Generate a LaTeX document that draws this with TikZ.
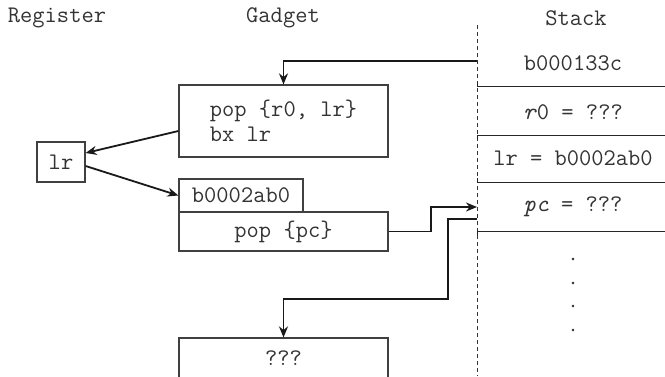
\documentclass[tikz,border=0pt]{standalone}
\usepackage{fontspec}
\usetikzlibrary{arrows.meta}
\begin{document}
\begin{tikzpicture}[x=1pt,y=-1pt,
  every node/.style={font=\ttfamily\fontsize{23.8}{25}\selectfont, text=black!80, inner sep=0pt},
  box/.style={draw=black!75, line width=1.2pt, rectangle, minimum width=209pt},
  arr/.style={draw=black!90, line width=1.8pt, -{Stealth[length=11pt,width=9pt]}},
  cell/.style={draw=black!85, line width=1pt},
  ttl/.style={}]
\useasboundingbox (0,0) rectangle (665,376);
\clip (0,0) rectangle (665,376);
% titles
\node[ttl] (tr) at (57,18) {Register};
\node[ttl] (tg) at (283,18) {Gadget};
\node[ttl] (ts) at (576,18) {Stack};
% stack
\draw[black!80, line width=1pt, dash pattern=on 4pt off 3pt] (477,25) -- (477,376);
\draw[cell] (477,82) -- (477,86) -- (665,86);
\draw[cell] (477,139) -- (477,135) -- (665,135);
\draw[cell] (477,178) -- (477,182) -- (665,182);
\draw[cell] (477,235) -- (477,231) -- (665,231);
\node (s1) at (573,63) {b000133c};
\node (s2) at (573,112) {\textit{r}0 = ???};
\node (s3) at (573,158) {lr = b0002ab0};
\node (s4) at (573,207) {\textit{pc} = ???};
\foreach \yy [count=\i] in {259,283,306,330} \fill[black!85] (573,\yy) circle (1.3pt);
% gadgets
\node[box, minimum height=72pt, align=left] (g1) at (283.5,121) {pop \{r0, lr\}\\bx lr};
\node[box, minimum width=48pt, minimum height=40pt] (lr) at (61,162) {lr};
\node[box, minimum width=124pt, minimum height=33pt] (ab) at (241,195.5) {b0002ab0};
\node[box, minimum height=39pt] (pc) at (283.5,231.5) {pop \{pc\}};
\node[box, minimum height=40pt] (q) at (283.5,358) {???};
% connectors
\coordinate (c1) at (477,61);
\coordinate (pcin) at (477,207);
\coordinate (pcout) at (477,219);
\draw[arr] (c1) -| (g1.north);
\draw[arr] ([yshift=-10pt]g1.west) -- ([yshift=9pt]lr.east);
\draw[arr] ([yshift=-4pt]lr.east) -- (ab.west);
\draw[arr] (pc.east) -- (431,231.5) |- (pcin);
\draw[arr] (pcout) -| (448,299) -| (q.north);
\end{tikzpicture}
\end{document}
